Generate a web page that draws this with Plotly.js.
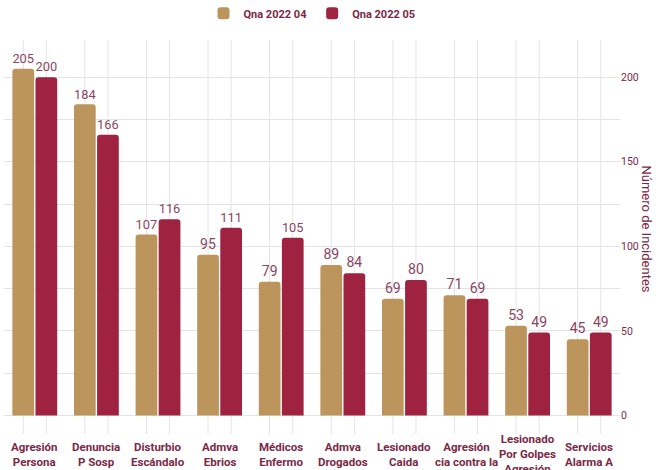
<!DOCTYPE html>
<html>
<head>
<meta charset="utf-8">
<script src="https://cdn.plot.ly/plotly-3.0.1.min.js"></script>
<style>html,body{margin:0;padding:0;background:#fff;}#chart{width:663px;height:470px;}</style>
</head>
<body>
<div id="chart"></div>
<script>
const categories = ["Agresión<br>Persona", "Denuncia<br>P Sosp", "Disturbio<br>Escándalo", "Admva<br>Ebrios", "Médicos<br>Enfermo", "Admva<br>Drogados", "Lesionado<br>Caida", "Agresión<br>cia contra la", "Lesionado<br>Por Golpes<br>Agresión", "Servicios<br>Alarma A"];
const seriesNames = ["Qna 2022 04", "Qna 2022 05"];
const qna04 = [205, 184, 107, 95, 79, 89, 69, 71, 53, 45];
const qna05 = [200, 166, 116, 111, 105, 84, 80, 69, 49, 49];
const yTicks = [0, 50, 100, 150, 200];

const gold = "#BC955C", wine = "#9F2241", textCol = "#7b2846", gridCol = "#e4e4e4";

function bar(name, vals, color) {
  return {
    type: "bar", name: name, x: categories, y: vals,
    marker: {color: color, cornerradius: 3},
    text: vals.map(String), textposition: "outside", cliponaxis: false,
    textfont: {family: "Roboto, sans-serif", size: 14, color: "#8a4562"},
    hoverinfo: "x+y"
  };
}

const n = categories.length;
const shapes = [];
categories.forEach((c, i) => {
  [-0.1875, 0.1875].forEach(off => {
    const px = (i + 0.5 + off) / n;
    shapes.push({type: "line", xref: "paper", yref: "paper", x0: px, x1: px, y0: 0, y1: 1,
      line: {color: gridCol, width: 1}, layer: "below"});
  });
});

const annotations = categories.map(c => ({
  text: c, xref: "x", yref: "paper", x: c, y: -0.052, yanchor: "middle", xanchor: "center",
  showarrow: false, font: {size: 11.5, color: textCol, weight: "bold"}
}));
annotations.push({text: "Número de Incidentes", xref: "paper", yref: "paper", x: 1, xshift: 36, y: 0.5,
  yshift: 8, textangle: 90, showarrow: false, font: {size: 13, color: textCol}});

const layout = {
  width: 663, height: 470,
  margin: {l: 4, r: 43, t: 40, b: 36, autoexpand: false},
  paper_bgcolor: "#fff", plot_bgcolor: "#fff",
  font: {family: "Roboto, sans-serif", color: textCol},
  barmode: "group", bargap: 0.25, bargroupgap: 0.06,
  showlegend: true,
  legend: {orientation: "h", x: 0.5, xanchor: "center", y: 1.068, yanchor: "middle",
    font: {size: 11, color: textCol, weight: "bold"}},
  xaxis: {type: "category", showgrid: false, zeroline: false, showline: false, ticks: "",
    showticklabels: false, automargin: false},
  yaxis: {side: "right", range: [-11, 222], tickvals: yTicks, showgrid: false, zeroline: false,
    showline: false, ticks: "", automargin: false, tickfont: {size: 10.5, color: textCol},
    minor: {dtick: 25, tick0: 0, showgrid: true, gridcolor: gridCol, gridwidth: 1, ticks: ""}},
  shapes: shapes,
  annotations: annotations
};

Plotly.newPlot("chart", [bar(seriesNames[0], qna04, gold), bar(seriesNames[1], qna05, wine)], layout, {displayModeBar: false, staticPlot: true});
</script>
</body>
</html>
